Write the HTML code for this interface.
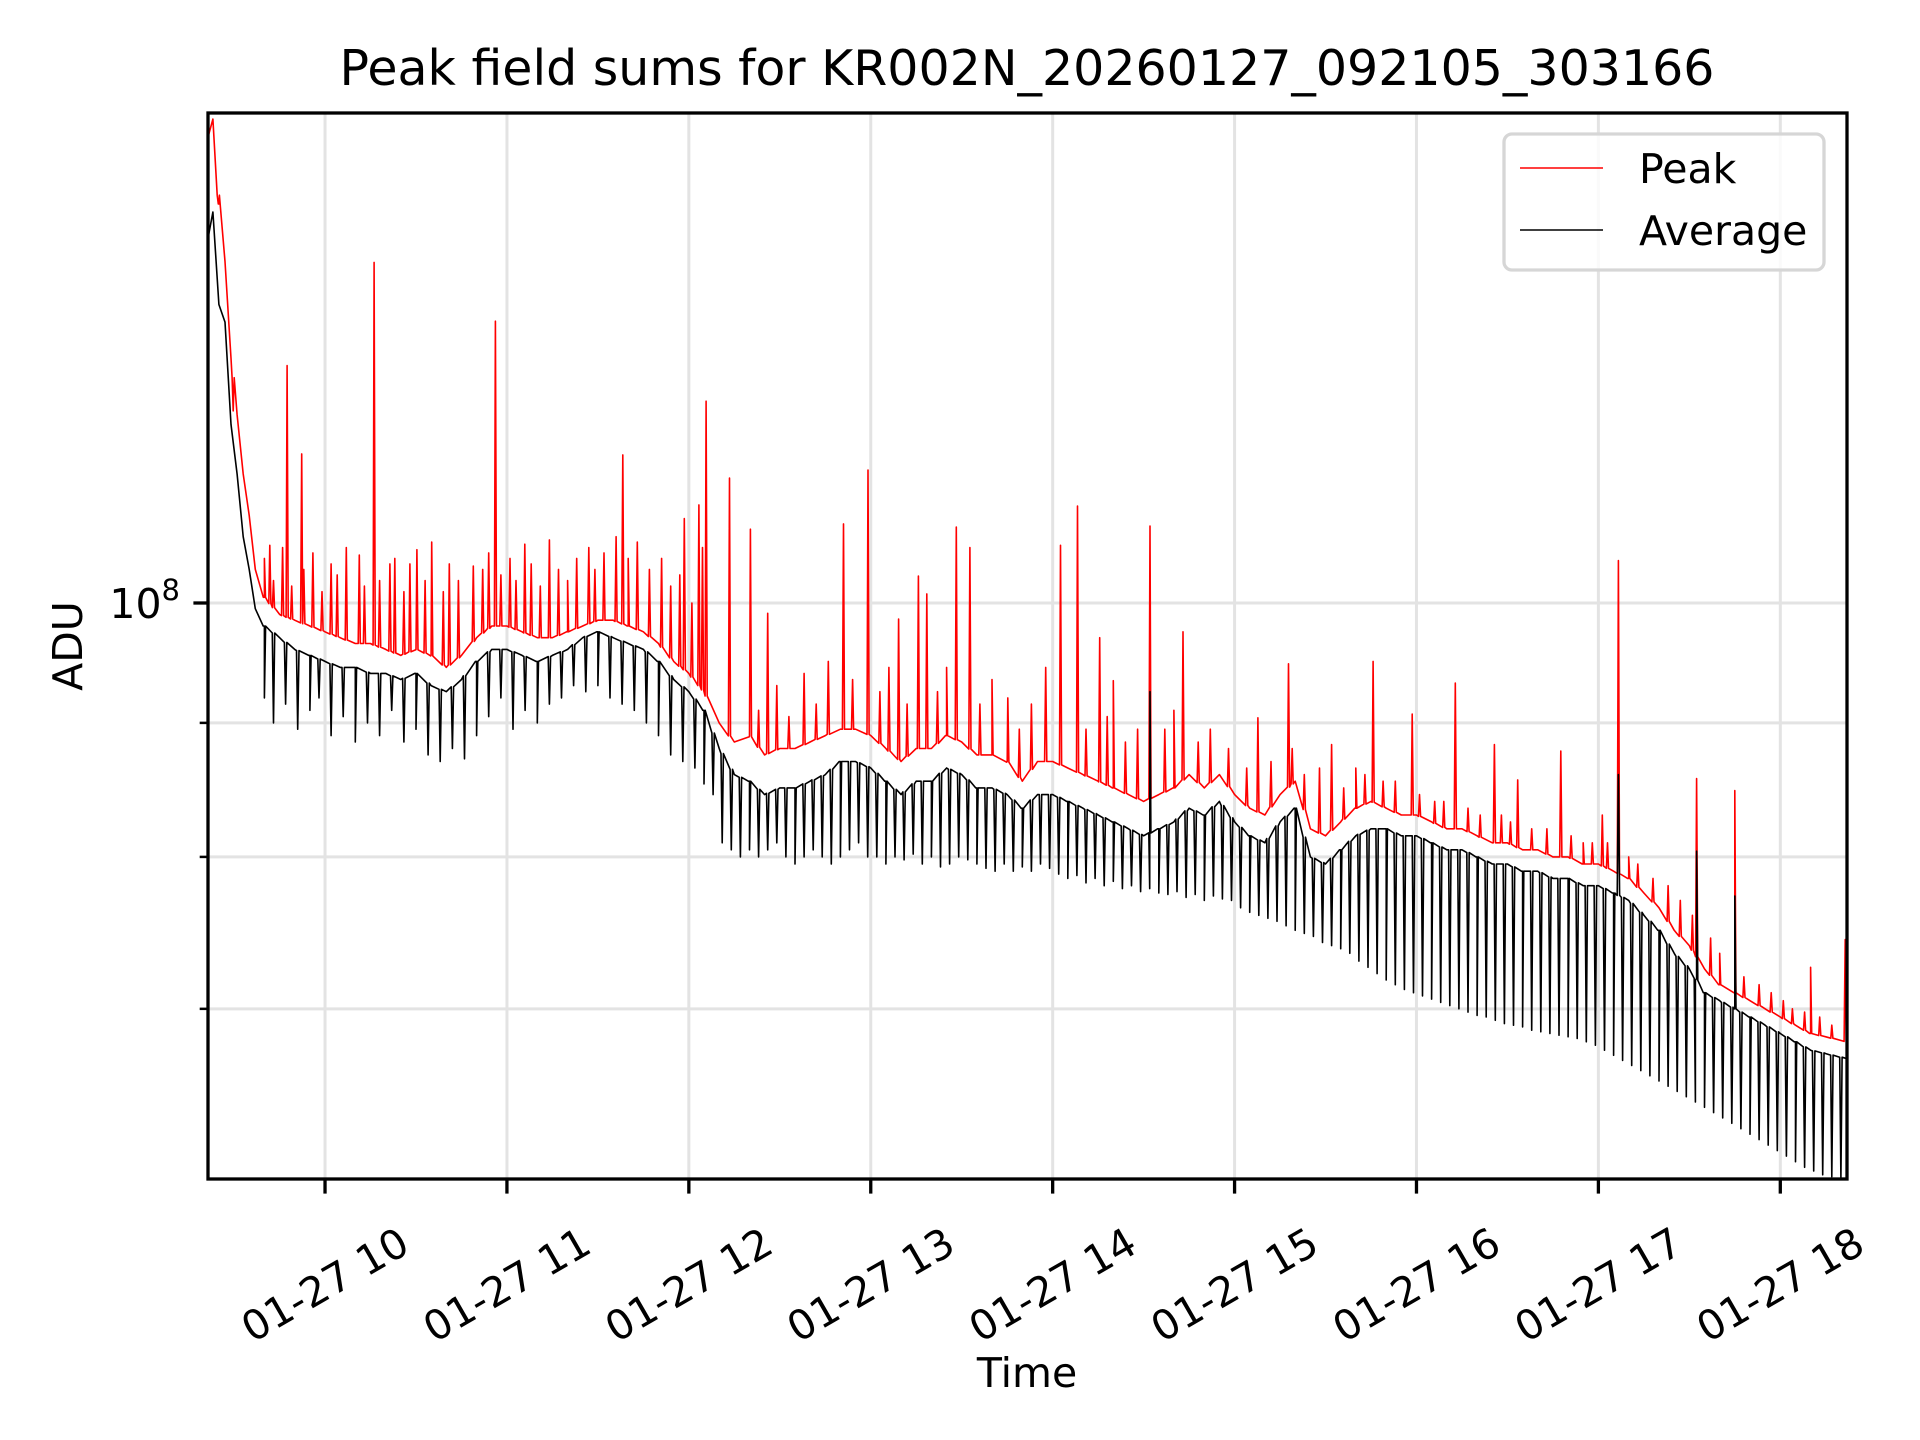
<!DOCTYPE html>
<html><head><meta charset="utf-8">
<style>
html,body{margin:0;padding:0;background:#fff;}
svg{display:block;font-family:"DejaVu Sans","Liberation Sans",sans-serif;}
</style></head>
<body>
<svg id="chart" width="1920" height="1440" viewBox="0 0 1920 1440" xmlns="http://www.w3.org/2000/svg">
<rect x="0" y="0" width="1920" height="1440" fill="#fff"/>
<text x="1027" y="85" font-size="49" text-anchor="middle">Peak field sums for KR002N_20260127_092105_303166</text>
<g id="grid"></g>
<g id="plot"></g>
<rect x="208" y="113" width="1639" height="1066" fill="none" stroke="#000" stroke-width="3.3"/>
<g id="axes"></g>
<text x="1027" y="1387" font-size="41" text-anchor="middle">Time</text>
<text x="0" y="0" font-size="41" text-anchor="middle" transform="translate(82,646) rotate(-90)">ADU</text>
<g>
<rect x="1504" y="134" width="320" height="136" rx="8" fill="#fff" fill-opacity="0.8" stroke="#d6d6d6" stroke-width="3.3"/>
<line x1="1520" y1="168" x2="1603" y2="168" stroke="#ff0000" stroke-width="1.5"/>
<text x="1639" y="183" font-size="41">Peak</text>
<line x1="1520" y1="230" x2="1603" y2="230" stroke="#000" stroke-width="1.5"/>
<text x="1639" y="245" font-size="41">Average</text>
</g>
</svg>
<script>
// time in minutes since 09:00, values in units of 1e6 ADU
const baseT = [21,23,25,27,29,31,33,35,37,40,45,50,55,60,65,70,75,80,85,90,95,100,105,110,115,120,125,130,135,140,145,150,155,160,165,170,175,180,185,190,195,200,205,210,215,220,225,230,235,240,245,250,255,260,265,270,275,280,285,290,295,300,305,310,315,320,325,330,335,340,345,350,355,360,365,370,375,380,385,390,395,400,405,410,415,420,425,430,435,440,445,450,455,460,465,470,475,480,485,490,495,500,505,510,515,520,525,530,535,540,545,550,555,562];
const baseAvg = [137,141,130,128,117,112,106,103,99.5,98,97,96,95.5,95,94.5,94.5,94,94,93.5,94,93,92.5,93.5,95,96,96,95.5,95,95.5,96,97,97.5,97,96.5,96,95,93.5,92.5,91,88,86,85.5,84.5,85,85,85.5,86,87,87,86.5,85.5,84.5,85.5,85.5,86.5,86,85,85,84.5,83.5,84.5,84.5,84,83.5,83,82.5,82,81.5,82,82.5,83.5,83,84,82.5,81.5,81,82.5,83.5,80,79.5,80.5,81.5,82,82,81.5,81.5,81,80.5,80.5,80,79.5,79.5,79,79,78.5,78.5,78,78,77.5,77,76,75,73.5,72.5,71,70.5,70,69.5,69,68.5,68,67.5,67.3,67];
const basePeak = [150,153,142,135,124,118,112,108,103,100.5,99,98.5,98,97.5,97,96.5,96.5,96,95.5,96,95.5,94.5,95.5,97,98,98,97.5,97,97,97.5,98,98.5,98.5,98,97.5,96.5,95,94,92.5,90,88.5,89,87.5,88,88,88.5,89,89.5,89.5,89,88,87,88,88,89,88.5,87.5,87.5,87,85.5,87,87,86.5,86,85.5,85,84.5,84,84.5,85,86,85,86,84.5,83.5,83,84.5,85.5,82,81.5,82.5,83.5,84,83.5,83,83,82.5,82,82,81.5,81,81,80.5,80.5,80,80,79.5,79.5,79,78.5,77.5,76.5,75,74,72.5,71.5,71,70.5,70,69.5,69,68.5,68.3,68];
const dipT = [40,43,47,51,55,58,62,66,70,74,78,82,86,90,94,98,102,106,110,114,118,122,126,130,134,138,142,146,150,154,158,162,166,170,174,178,182,185,188,
191,194,197,200,203,206,209,212,215,218,221,224,227,230,233,236,239,
242,245,248,251,254,257,260,263,266,269,272,275,278,281,284,287,290,293,296,299,
302,305,308,311,314,317,320,323,326,329,332,335,338,341,344,347,350,353,356,359,
362,365,368,371,374,377,380,383,386,389,392,395,398,401,404,407,410,413,416,419,
422,425,428,431,434,437,440,443,446,449,452,455,458,461,464,467,470,473,476,479,
482,485,488,491,494,497,500,503,506,509,512,515,518,521,524,527,530,533,536,539,542,545,548,551,554,557,560];
const dipV = [92,90,91.5,89.5,91,92,89,90.5,88.5,90,89,91,88.5,89.5,87.5,87,88,87.2,89,90.5,92,89.5,91,90,91.5,92,93,92.5,93,92,91.5,91,90,89,87.5,87,86.5,85.3,84.5,
81,80.5,80,80.5,80,80.5,81,80,79.5,80,80.5,80,79.5,80,80.5,81,80,
80,79.5,80,79.8,80.2,79.5,80,79.3,79.5,80,79.8,79.5,79.2,79,79.5,79,79.3,79,79.5,79.2,
78.8,78.5,78.7,78.2,78.5,78,78.3,77.8,78,77.6,77.8,77.5,77.4,77.6,77.2,77.4,77,77.3,77.1,77,
76.5,76.2,76,75.8,75.6,75.3,75,74.8,74.6,74.2,74,73.8,73.5,73,72.6,72.2,71.8,71.5,71.2,71,
70.8,70.6,70.4,70.2,70,69.8,69.6,69.5,69.3,69.1,69,68.9,68.7,68.6,68.5,68.4,68.3,68.2,68,67.8,
67.5,67.2,66.9,66.6,66.3,66,65.7,65.4,65.1,64.8,64.5,64.2,63.9,63.6,63.3,63,62.7,62.4,62.1,61.8,61.5,61.2,60.9,60.7,60.5,60.4,60.3];
const spikeT = [24.8,29.7,41.8,47.5,52.3,62,71.3,76.2,81.4,90.3,95.2,108.9,116.2,125.9,134,158.2,178.5,183.3,184.5,185.7,193.4,200.3,206,231,239.1,249.2,255.7,258.5,268.2,272.7,285.2,297.7,302.6,308.2,315.5,320,332.1,343,367.7,377.8,392,405.7,418.6,432.8,445.7,453.4,467.6,481.3,486.6,512.4,525,550,561.4];
const spikeV = [142,118.4,105.2,123.2,114,103.5,104.3,134.9,103.5,104.8,105.5,103.3,128.1,105.3,105.7,113.9,107.7,109,105,119.4,111.6,106.7,99.1,107.2,112.4,98.6,102.4,100.8,106.9,105,92,94.5,105.2,108.9,97,93.4,107,97.5,90.4,94.8,88.3,95,90.7,93.2,88.3,85.6,87.8,83,103.8,85.7,84.8,72.6,74.4];
const minorSpikeT = [40,43,46,49,53,56,59,64,67,73,78,83,86,88,93,99,101,104,112,114,118,121,123,128,131,137,140,143,147,149,152,156,160,163,167,171,174,177,181,
203,209,213,218,222,226,234,243,246,252,262,265,276,280,289,293,311,318,324,328,337,340,348,352,358,364,372,379,383,388,396,400,403,409,413,421,426,429,437,441,448,451,458,463,471,475,478,483,490,493,498,503,507,511,517,520,528,533,537,541,544,548,553,557];
const minorSpikeV = [104,102,105,101.5,103,104.5,101,102.5,105,101.5,102,104,101,103.5,102,101,103.5,102,103,104.5,102.5,104,102,103.5,101.5,103,102,104,105,103,104.5,106,104,105.5,103,104,101.5,102.5,100,
91,93,90.5,94,91.5,95,93.5,92.5,94.5,91.5,92.5,94.5,91.5,93.5,89.5,91.5,89.5,90.5,88.5,89.5,89.5,91,88.5,89.5,88,86.5,87,88,86,86.5,85,86.5,86,85.5,85.5,84.5,84,84,83.5,83,83,82.5,82,82,81.5,81,81,81,80,79.5,78.5,78,77,76,74.5,73.5,72,71.5,71,70.5,70,69.8,69.5,69];
const avgSpikeT = [332.1,486.6,512.4,525];
const avgSpikeV = [92.5,86,80.4,77.3];
const yMajorTicks = [100];
const yMinorTicks = [90,80,70];
const xTickMinutes = [60,120,180,240,300,360,420,480,540];
const xTickLabels = ["01-27 10","01-27 11","01-27 12","01-27 13","01-27 14","01-27 15","01-27 16","01-27 17","01-27 18"];

const L=208,R=1847,T=113,B=1179;
const xMin=21.4, xMax=562.0;
function xs(m){return L+(m-xMin)/(xMax-xMin)*(R-L);}
function ys(v){return 603-Math.log10(v/100)*2620;}
const NS="http://www.w3.org/2000/svg";
function mk(tag,attrs,parent){const e=document.createElementNS(NS,tag);for(const k in attrs)e.setAttribute(k,attrs[k]);parent.appendChild(e);return e;}
function interp(t,ts,vs){if(t<=ts[0])return vs[0];for(let i=1;i<ts.length;i++){if(t<=ts[i]){const f=(t-ts[i-1])/(ts[i]-ts[i-1]);return vs[i-1]+f*(vs[i]-vs[i-1]);}}return vs[vs.length-1];}

const grid=document.getElementById('grid'),axes=document.getElementById('axes'),plot=document.getElementById('plot');
xTickMinutes.forEach((m,i)=>{
  const x=xs(m);
  const g=mk('line',{x1:x,y1:T,x2:x,y2:B,stroke:'#e3e3e3','stroke-width':3},grid);
  
  
  const t=mk('line',{x1:x,y1:B,x2:x,y2:B+14.6,stroke:'#000','stroke-width':3.3},axes);
  
  
  const lb=mk('text',{x:0,y:0,'font-size':41,'text-anchor':'middle','dominant-baseline':'central',transform:`translate(${x},${B+106}) rotate(-30)`},axes);
  lb.textContent=xTickLabels[i];
  
  
});
yMajorTicks.concat(yMinorTicks).forEach(v=>{
  const y=ys(v);
  const g=mk('line',{x1:L,y1:y,x2:R,y2:y,stroke:'#e3e3e3','stroke-width':3},grid);
  
  
  const major=yMajorTicks.includes(v);
  const t=mk('line',{x1:L-(major?14.6:8.3),y1:y,x2:L,y2:y,stroke:'#000','stroke-width':major?3.3:2.5},axes);
  
  
});
{
  const lb=mk('text',{x:180,y:ys(100)+15,'font-size':41,'text-anchor':'end'},axes);
  
  
  lb.innerHTML='10<tspan dy="-18" font-size="29">8</tspan>';
}
function buildSeries(bT,bV,evT,evV,w){
  const pts=bT.map((t,i)=>[t,bV[i]]);
  evT.forEach((t,i)=>{const b=interp(t,bT,bV);pts.push([t-w,b]);pts.push([t,evV[i]]);pts.push([t+w,b]);});
  pts.sort((a,b)=>a[0]-b[0]);
  return pts;
}
const peakPts=buildSeries(baseT,basePeak,spikeT.concat(minorSpikeT),spikeV.concat(minorSpikeV),0.35);
const avgPts=buildSeries(baseT,baseAvg,dipT.concat(avgSpikeT),dipV.concat(avgSpikeV),0.4);
function path(pts){return pts.map((p,i)=>(i?'L':'M')+xs(p[0]).toFixed(1)+','+Math.max(T,Math.min(B,ys(p[1]))).toFixed(1)).join('');}
const clip=mk('clipPath',{id:'pc'},plot);mk('rect',{x:L,y:T,width:R-L,height:B-T},clip);
const pk=mk('path',{d:path(peakPts),fill:'none',stroke:'#ff0000','stroke-width':1.6,'stroke-linejoin':'round','clip-path':'url(#pc)'},plot);


const av=mk('path',{d:path(avgPts),fill:'none',stroke:'#000','stroke-width':1.6,'stroke-linejoin':'round','clip-path':'url(#pc)'},plot);


</script>
</body></html>
